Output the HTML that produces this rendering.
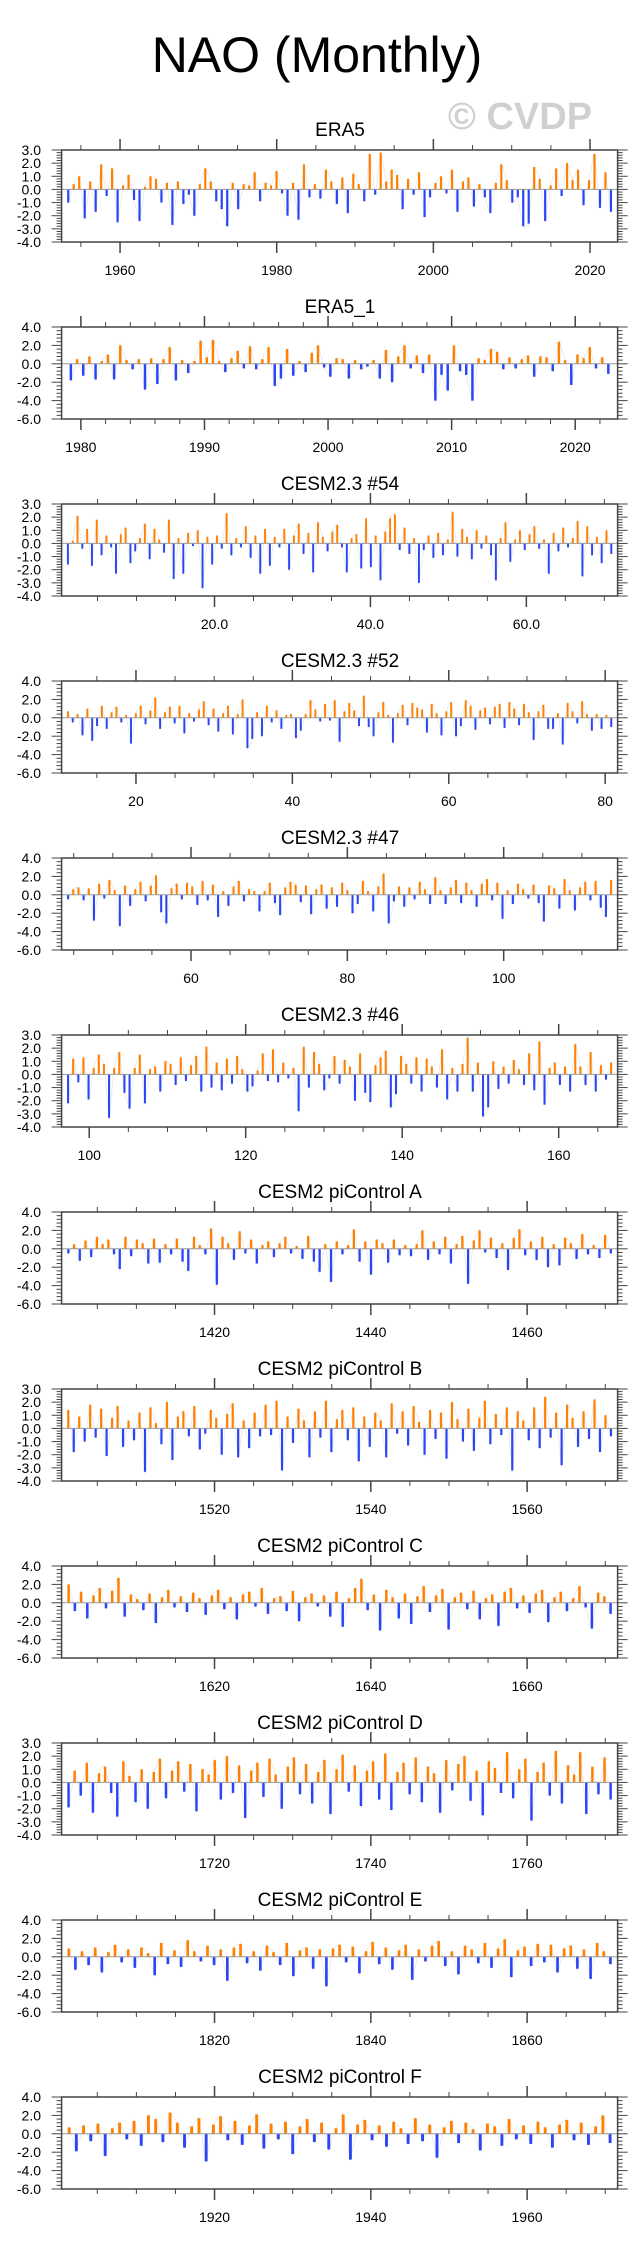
<!DOCTYPE html>
<html><head><meta charset="utf-8"><title>NAO (Monthly)</title>
<style>html,body{margin:0;padding:0;background:#fff}svg{display:block}text{font-family:"Liberation Sans",sans-serif}</style>
</head><body>
<svg id="chart" xmlns="http://www.w3.org/2000/svg" width="641" height="2253" viewBox="0 0 641 2253">
<text x="317" y="72" font-size="50" text-anchor="middle" fill="#000">NAO (Monthly)</text>
<text x="520" y="129" font-size="38" font-weight="bold" text-anchor="middle" fill="#d0d0d0">© CVDP</text>
</svg>
<script>
const panelTitles = ["ERA5","ERA5_1","CESM2.3 #54","CESM2.3 #52","CESM2.3 #47","CESM2.3 #46","CESM2 piControl A","CESM2 piControl B","CESM2 piControl C","CESM2 piControl D","CESM2 piControl E","CESM2 piControl F"];
const xMins = [1952.54,1978.44,0.39,10.49,43.45,96.47,1400.43,1500.43,1600.43,1700.43,1800.43,1900.43];
const xMaxs = [2023.52,2023.43,71.7,81.59,114.57,167.53,1471.58,1571.58,1671.58,1771.58,1871.58,1971.58];
const xMajorStep = [20,10,20,20,20,20,20,20,20,20,20,20];
const xMinorStep = [5,2,5,5,5,5,5,5,5,5,5,5];
const xLabelDecimals = [0,0,1,0,0,0,0,0,0,0,0,0];
const yTypes = [0,1,0,1,1,0,1,0,1,0,1,1];
const yTops = [3,4];
const yBottoms = [-4,-6];
const yMajor = [1,2];
const yMinor = [0.2,0.4];

const vERA5 = [-1.0,0.4,1.0,-2.2,0.6,-1.7,1.9,-0.5,1.6,-2.5,0.3,1.1,-0.8,-2.4,0.2,1.0,0.8,-1.0,0.5,-2.7,0.6,-1.1,-0.4,-2.0,0.4,1.6,0.6,-0.9,-1.5,-2.8,0.5,-1.5,0.4,0.3,1.3,-0.9,0.5,0.3,1.4,-0.3,-2.0,0.5,-2.3,1.9,-0.6,0.4,-0.7,1.5,0.6,-1.1,0.9,-1.8,1.2,0.4,-0.9,2.7,-0.4,2.8,0.6,1.5,1.1,-1.5,0.8,-0.4,1.3,-2.1,-0.6,0.5,1.0,-0.3,1.5,-1.7,0.6,0.9,-1.3,0.4,-0.6,-1.8,0.5,1.9,0.7,-1.0,-0.6,-2.8,-2.6,1.7,0.8,-2.4,0.3,1.6,-0.5,2.0,0.7,1.5,-1.2,0.7,2.7,-1.4,1.3,-1.7];
const vERA5_1 = [-1.8,0.5,-1.3,0.8,-1.7,0.3,1.0,-1.7,2.0,0.4,-0.6,0.5,-2.8,0.6,-2.2,0.5,1.8,-1.8,0.4,-1.0,0.3,2.5,0.7,2.6,0.3,-0.9,0.6,1.4,-0.5,1.9,-0.6,0.5,1.8,-2.4,-1.6,1.6,-1.3,0.3,-0.9,1.2,2.0,-0.4,-1.4,0.6,0.5,-1.6,0.4,-0.6,-0.3,0.4,-1.6,1.5,-2.0,0.8,2.0,-0.5,0.9,-1.0,1.0,-4.0,-1.2,-2.9,2.0,-0.8,-1.2,-4.0,0.6,0.4,1.6,1.3,-0.6,0.7,-0.5,0.5,0.9,-1.4,0.8,0.7,-0.8,2.4,0.4,-2.3,1.0,0.6,1.8,-0.5,0.7,-1.1];
const v54 = [-1.6,0.2,2.1,-0.4,1.1,-1.7,1.8,-0.9,0.6,-0.3,-2.3,0.7,1.2,-1.5,-0.6,0.4,1.5,-1.2,1.1,0.3,-0.7,1.8,-2.7,0.4,-2.3,0.8,-0.2,1.0,-3.4,0.5,-1.6,0.6,-0.4,2.3,-0.9,0.4,-0.3,1.3,-1.1,0.6,-2.3,1.1,-1.7,0.5,-0.3,1.1,-2.0,0.6,1.5,-0.8,0.8,-2.2,1.6,0.5,-0.6,0.9,1.4,-0.3,-2.2,0.4,0.7,-1.9,1.9,-1.8,0.6,-2.8,0.9,1.9,2.2,-0.5,1.2,-0.8,0.4,-3.0,-0.5,0.6,-1.1,0.8,-0.9,0.3,2.4,-1.0,1.1,0.5,-1.2,1.0,-0.4,0.6,-0.9,-2.8,0.4,1.6,-1.4,0.3,1.0,-0.5,0.7,1.3,-0.4,0.3,-2.3,0.8,-0.6,1.2,-0.3,0.4,1.7,-2.5,1.3,-0.9,0.5,-1.5,1.0,-0.8];
const v52 = [0.7,-0.5,0.4,-1.9,1.0,-2.5,-0.9,1.3,-1.2,0.6,1.2,-0.5,0.3,-2.8,0.5,1.3,-0.7,0.8,2.2,-1.2,0.6,1.2,-0.6,1.3,-1.7,0.5,-0.4,0.9,1.8,-0.8,1.0,-1.5,0.5,1.3,-1.8,0.4,2.0,-3.3,-2.3,0.6,-2.0,1.3,-0.5,0.8,-1.2,0.3,0.4,-2.2,-1.4,0.4,1.9,0.9,-0.4,1.5,-0.3,1.9,-2.6,0.7,1.6,0.8,-0.9,2.4,-1.0,-2.0,0.6,1.7,0.3,-2.7,0.5,1.4,-0.8,1.6,1.1,0.9,-1.6,1.5,0.5,-1.9,0.7,1.7,-2.0,-0.9,1.9,1.3,-1.3,0.8,1.1,-0.7,1.2,1.5,-1.1,1.7,1.0,-0.8,1.5,0.6,-2.4,0.7,1.4,-1.2,-1.2,0.5,-2.9,1.6,0.7,-0.6,1.8,0.4,-1.4,0.4,-1.2,0.3,-1.0];
const v47 = [-0.5,0.6,0.8,-0.6,0.7,-2.8,1.2,-0.4,1.6,0.5,-3.4,1.0,-1.2,0.6,1.4,-0.7,1.0,2.1,-1.9,-3.1,0.7,1.2,-0.5,1.3,0.9,-1.1,1.5,-0.6,1.1,-2.4,0.4,-1.2,0.9,1.5,-0.7,0.6,0.4,-1.8,0.4,1.3,-0.9,-2.2,0.8,1.4,1.1,-0.8,1.0,-2.1,0.6,1.1,-1.5,0.8,-1.3,1.3,0.5,-2.0,-1.0,1.5,0.4,-1.8,0.9,2.3,-3.1,-0.7,0.9,-1.3,0.8,-0.5,1.4,0.6,-1.0,1.9,0.5,-1.0,0.8,1.6,-0.9,1.3,0.5,-1.3,1.2,1.7,-0.6,1.3,-2.6,0.5,-1.0,1.2,0.6,-0.4,1.1,-0.9,-2.9,1.0,0.7,-1.5,1.7,0.5,-1.7,0.8,1.4,-0.6,1.5,-1.4,-2.4,1.6];
const v46 = [-2.2,1.2,-0.6,1.3,-1.9,0.5,1.5,0.8,-3.3,0.5,1.7,-1.4,-2.6,0.5,1.5,-2.2,0.4,0.6,-1.3,1.0,0.8,-0.8,1.3,-0.5,0.7,1.4,-1.3,2.1,-1.0,0.9,-1.2,1.2,-0.7,1.4,0.4,-1.3,-0.9,0.3,1.6,-0.5,1.9,-0.6,0.9,-0.3,0.5,-2.8,2.1,-1.0,1.7,0.8,-1.2,-0.3,1.4,-0.7,1.1,0.6,-2.0,1.6,-1.4,-2.1,0.7,1.3,1.8,-2.5,-1.5,1.4,0.8,-0.7,1.3,-1.3,1.2,0.6,-1.0,1.9,-1.9,0.5,-1.3,0.8,2.8,-1.3,0.9,-3.2,-2.5,1.0,-1.1,0.6,-0.7,1.1,0.4,-0.8,1.6,-1.2,2.5,-2.3,0.5,0.9,-0.8,0.6,-1.3,2.3,0.6,-0.8,1.7,-1.3,0.7,-0.4,0.9];
const vA = [-0.5,0.5,-1.3,0.9,-0.9,1.3,0.5,1.0,-0.6,-2.2,1.3,-0.8,1.0,0.6,-1.6,1.1,-1.5,0.5,-0.6,1.1,-1.4,-2.4,1.3,0.4,-0.6,2.2,-3.9,1.3,0.6,-1.2,1.9,-0.5,1.0,-1.6,0.4,0.8,-0.9,0.6,1.3,-0.5,0.3,-1.1,1.4,-1.4,-2.5,0.5,-3.6,0.8,-0.6,0.4,2.1,-1.4,0.8,-2.8,1.0,0.6,-1.5,1.0,-0.7,0.4,-0.8,0.5,2.0,-1.2,0.8,-0.6,1.3,-1.6,0.5,1.4,-3.8,0.9,2.0,-0.4,1.2,-1.0,0.6,-2.3,1.2,2.1,-0.7,0.8,-1.2,1.3,-2.0,0.5,-1.8,1.2,0.6,-1.1,1.6,-0.6,0.4,-1.0,1.5,-0.5];
const vB = [1.4,-1.8,0.9,-1.0,1.8,-0.7,1.5,-2.1,0.8,1.7,-1.4,0.6,-0.9,1.2,-3.3,1.6,0.4,-1.2,2.0,-2.4,0.9,1.3,-0.6,1.7,-1.6,-0.4,1.4,0.8,-2.0,1.1,1.9,-2.2,0.6,-1.5,1.2,-0.6,1.8,-0.5,2.1,-3.2,0.9,-1.1,1.5,0.6,-2.2,1.3,-0.7,2.1,-1.8,0.7,1.4,-0.9,1.6,-2.5,0.9,-1.4,1.2,0.6,-2.2,1.9,-0.4,1.3,-1.3,1.7,0.5,-2.0,1.4,-0.8,1.2,-2.3,2.0,0.7,-1.0,1.5,-1.7,0.8,2.1,-1.2,1.1,-0.5,1.6,-3.2,1.3,0.6,-0.9,1.6,-1.5,2.4,-0.7,1.2,-2.8,1.8,0.8,-1.4,1.3,-0.8,2.2,-1.8,1.0,-0.6];
const vC = [2.0,-0.9,1.2,-1.7,0.8,1.6,-0.6,1.3,2.7,-1.5,0.9,0.4,-0.8,1.0,-2.2,0.6,1.4,-0.5,0.7,-1.0,1.1,0.5,-1.3,0.8,1.4,-0.7,0.6,-1.8,0.9,1.2,-0.4,1.6,-1.2,0.5,0.7,-0.9,1.3,-2.0,0.6,1.0,-0.4,0.8,-1.5,1.2,-2.6,0.5,1.6,2.6,-0.8,0.9,-3.0,1.4,0.6,-1.7,1.0,-2.3,0.7,1.8,-1.0,0.8,1.5,-2.9,0.6,1.1,-0.7,1.3,-1.8,0.5,0.9,-2.5,1.2,1.6,-0.6,0.8,-1.1,1.0,1.4,-2.1,0.6,1.2,-0.9,0.5,1.8,-0.5,-2.8,1.1,0.7,-1.2];
const vD = [-1.9,0.9,-1.0,1.5,-2.3,0.7,1.2,-0.8,-2.6,1.6,0.5,-1.5,1.0,-2.0,0.8,1.8,-1.2,0.9,1.6,-0.7,1.4,-2.2,1.0,0.6,1.7,-1.3,2.0,-0.8,1.3,-2.7,0.9,1.5,-1.1,1.8,0.6,-2.0,1.2,1.9,-0.9,1.4,-1.6,0.8,1.7,-2.4,1.0,2.1,-0.7,1.3,-1.8,0.9,1.6,-1.3,2.2,-2.1,0.8,1.5,-0.9,1.9,-1.5,1.2,0.7,-2.3,1.7,-0.6,1.4,2.0,-1.4,0.9,-2.5,1.6,1.1,-0.8,2.3,-1.2,1.0,1.8,-2.9,0.8,1.5,-1.0,2.4,-1.6,1.3,0.6,2.3,-2.4,1.2,-0.9,1.9,-1.3];
const vE = [0.9,-1.4,0.6,-0.9,1.0,-1.7,0.5,1.3,-0.6,0.8,-1.2,1.0,0.4,-2.0,1.5,-0.8,0.7,-1.1,1.8,0.6,-0.5,1.2,-0.9,0.8,-2.6,1.0,1.4,-0.7,0.6,-1.5,1.2,0.5,-0.9,1.5,-2.1,0.7,1.0,-1.3,0.8,-3.2,0.9,1.3,-0.6,1.1,-1.8,0.6,1.6,-0.8,1.0,-1.4,0.7,1.3,-2.5,0.8,-0.5,1.2,1.7,-1.0,0.6,-1.9,1.2,0.8,-0.7,1.5,-1.2,0.9,1.9,-2.2,0.7,1.1,-1.0,1.4,-0.6,1.3,-1.7,0.9,1.2,-1.3,0.8,-2.4,1.5,0.6,-0.8];
const vF = [0.7,-1.9,0.9,-0.8,1.1,-2.4,0.6,1.2,-0.6,1.4,-1.3,2.0,1.6,-0.9,2.3,1.2,-1.5,0.8,1.7,-3.0,1.0,1.9,-0.7,1.4,-1.2,0.9,2.1,-1.6,1.1,-0.6,1.3,-2.2,0.8,1.6,-0.9,1.2,-1.7,0.6,2.1,-2.8,1.0,1.5,-0.7,0.9,-1.4,1.3,0.6,-1.1,1.7,-0.8,1.0,-2.6,0.7,1.4,-1.0,1.2,0.5,-1.8,1.1,0.8,-1.3,1.6,-0.6,0.9,-1.1,1.3,0.7,-1.5,1.0,1.5,-0.7,1.2,-1.2,0.8,2.0,-1.0];
const seriesValues = [vERA5,vERA5_1,v54,v52,v47,v46,vA,vB,vC,vD,vE,vF];

const NS = "http://www.w3.org/2000/svg";
const svg = document.getElementById("chart");
const L = 61.6, R = 617.6, H = 92, TOP0 = 150, PITCH = 177;
function mk(tag, attrs, parent) {
  const e = document.createElementNS(NS, tag);
  for (const k in attrs) e.setAttribute(k, attrs[k]);
  parent.appendChild(e);
  return e;
}
panelTitles.forEach((title, p) => {
  const top = TOP0 + PITCH * p, bot = top + H;
  const x0 = xMins[p], x1 = xMaxs[p];
  const yt = yTops[yTypes[p]], yb = yBottoms[yTypes[p]];
  const xs = v => L + (v - x0) / (x1 - x0) * (R - L);
  const ys = v => top + (yt - v) / (yt - yb) * H;
  const g = mk("g", {}, svg);
  
  
  const t = mk("text", {x: 340, y: top - 14, "font-size": 19, "text-anchor": "middle", fill: "#000"}, g);
  t.textContent = title;
  
  
  const vals = seriesValues[p];
  const span = (x1 - x0 - 1.0);
  const step = span / vals.length;
  const bw = Math.max(1, (R - L) / (x1 - x0) * step * 0.4);
  // faint gray line through values
  const pts = vals.map((v, i) => xs(x0 + 0.5 + (i + 0.5) * step).toFixed(2) + "," + ys(v * 1.05).toFixed(2)).join(" ");
  const gl = mk("polyline", {points: pts, fill: "none", stroke: "#ececec", "stroke-width": 1}, g);
  
  
  const barsG = mk("g", {}, g);
  
  
  vals.forEach((v, i) => {
    const xc = xs(x0 + 0.5 + (i + 0.5) * step);
    const y0 = ys(0), y1 = ys(v);
    const r = mk("rect", {x: (xc - bw / 2).toFixed(2), y: Math.min(y0, y1).toFixed(2), width: bw.toFixed(2), height: Math.abs(y1 - y0).toFixed(2), fill: v >= 0 ? "#ff8000" : "#2a45f5"}, barsG);
    
    
  });
  const z = mk("line", {x1: L, x2: R, y1: ys(0), y2: ys(0), stroke: "#9a9a9a", "stroke-width": 1}, g);
  
  
  const f = mk("rect", {x: L, y: top, width: R - L, height: H, fill: "none", stroke: "#444", "stroke-width": 1.5}, g);
  
  
  const ym = yMajor[yTypes[p]], yn = yMinor[yTypes[p]];
  for (let k = 0; yb + k * yn <= yt + 1e-6; k++) {
    const v = yb + k * yn, y = ys(v);
    const major = Math.abs(v / ym - Math.round(v / ym)) < 1e-6;
    const len = major ? 10 : 5;
    mk("line", {x1: L - len, x2: L, y1: y, y2: y, stroke: "#444", "stroke-width": 1}, g);
    mk("line", {x1: R, x2: R + len, y1: y, y2: y, stroke: "#444", "stroke-width": 1}, g);
    if (major) {
      const lt = mk("text", {x: 41, y: y + 5, "font-size": 14, "text-anchor": "end", fill: "#000"}, g);
      lt.textContent = v.toFixed(1);
      
      
    }
  }
  const mn = xMinorStep[p], mj = xMajorStep[p];
  for (let v = Math.ceil(x0 / mn) * mn; v <= x1; v += mn) {
    const x = xs(v);
    const major = Math.abs(v % mj) < 1e-6;
    const len = major ? 11 : 5;
    mk("line", {x1: x, x2: x, y1: top - len, y2: top, stroke: "#444", "stroke-width": major ? 1.5 : 1}, g);
    mk("line", {x1: x, x2: x, y1: bot, y2: bot + len, stroke: "#444", "stroke-width": major ? 1.5 : 1}, g);
    if (major) {
      const xt = mk("text", {x: x, y: bot + 33, "font-size": 14, "text-anchor": "middle", fill: "#000"}, g);
      xt.textContent = v.toFixed(xLabelDecimals[p]);
      
      
    }
  }
});
</script>
</body></html>
